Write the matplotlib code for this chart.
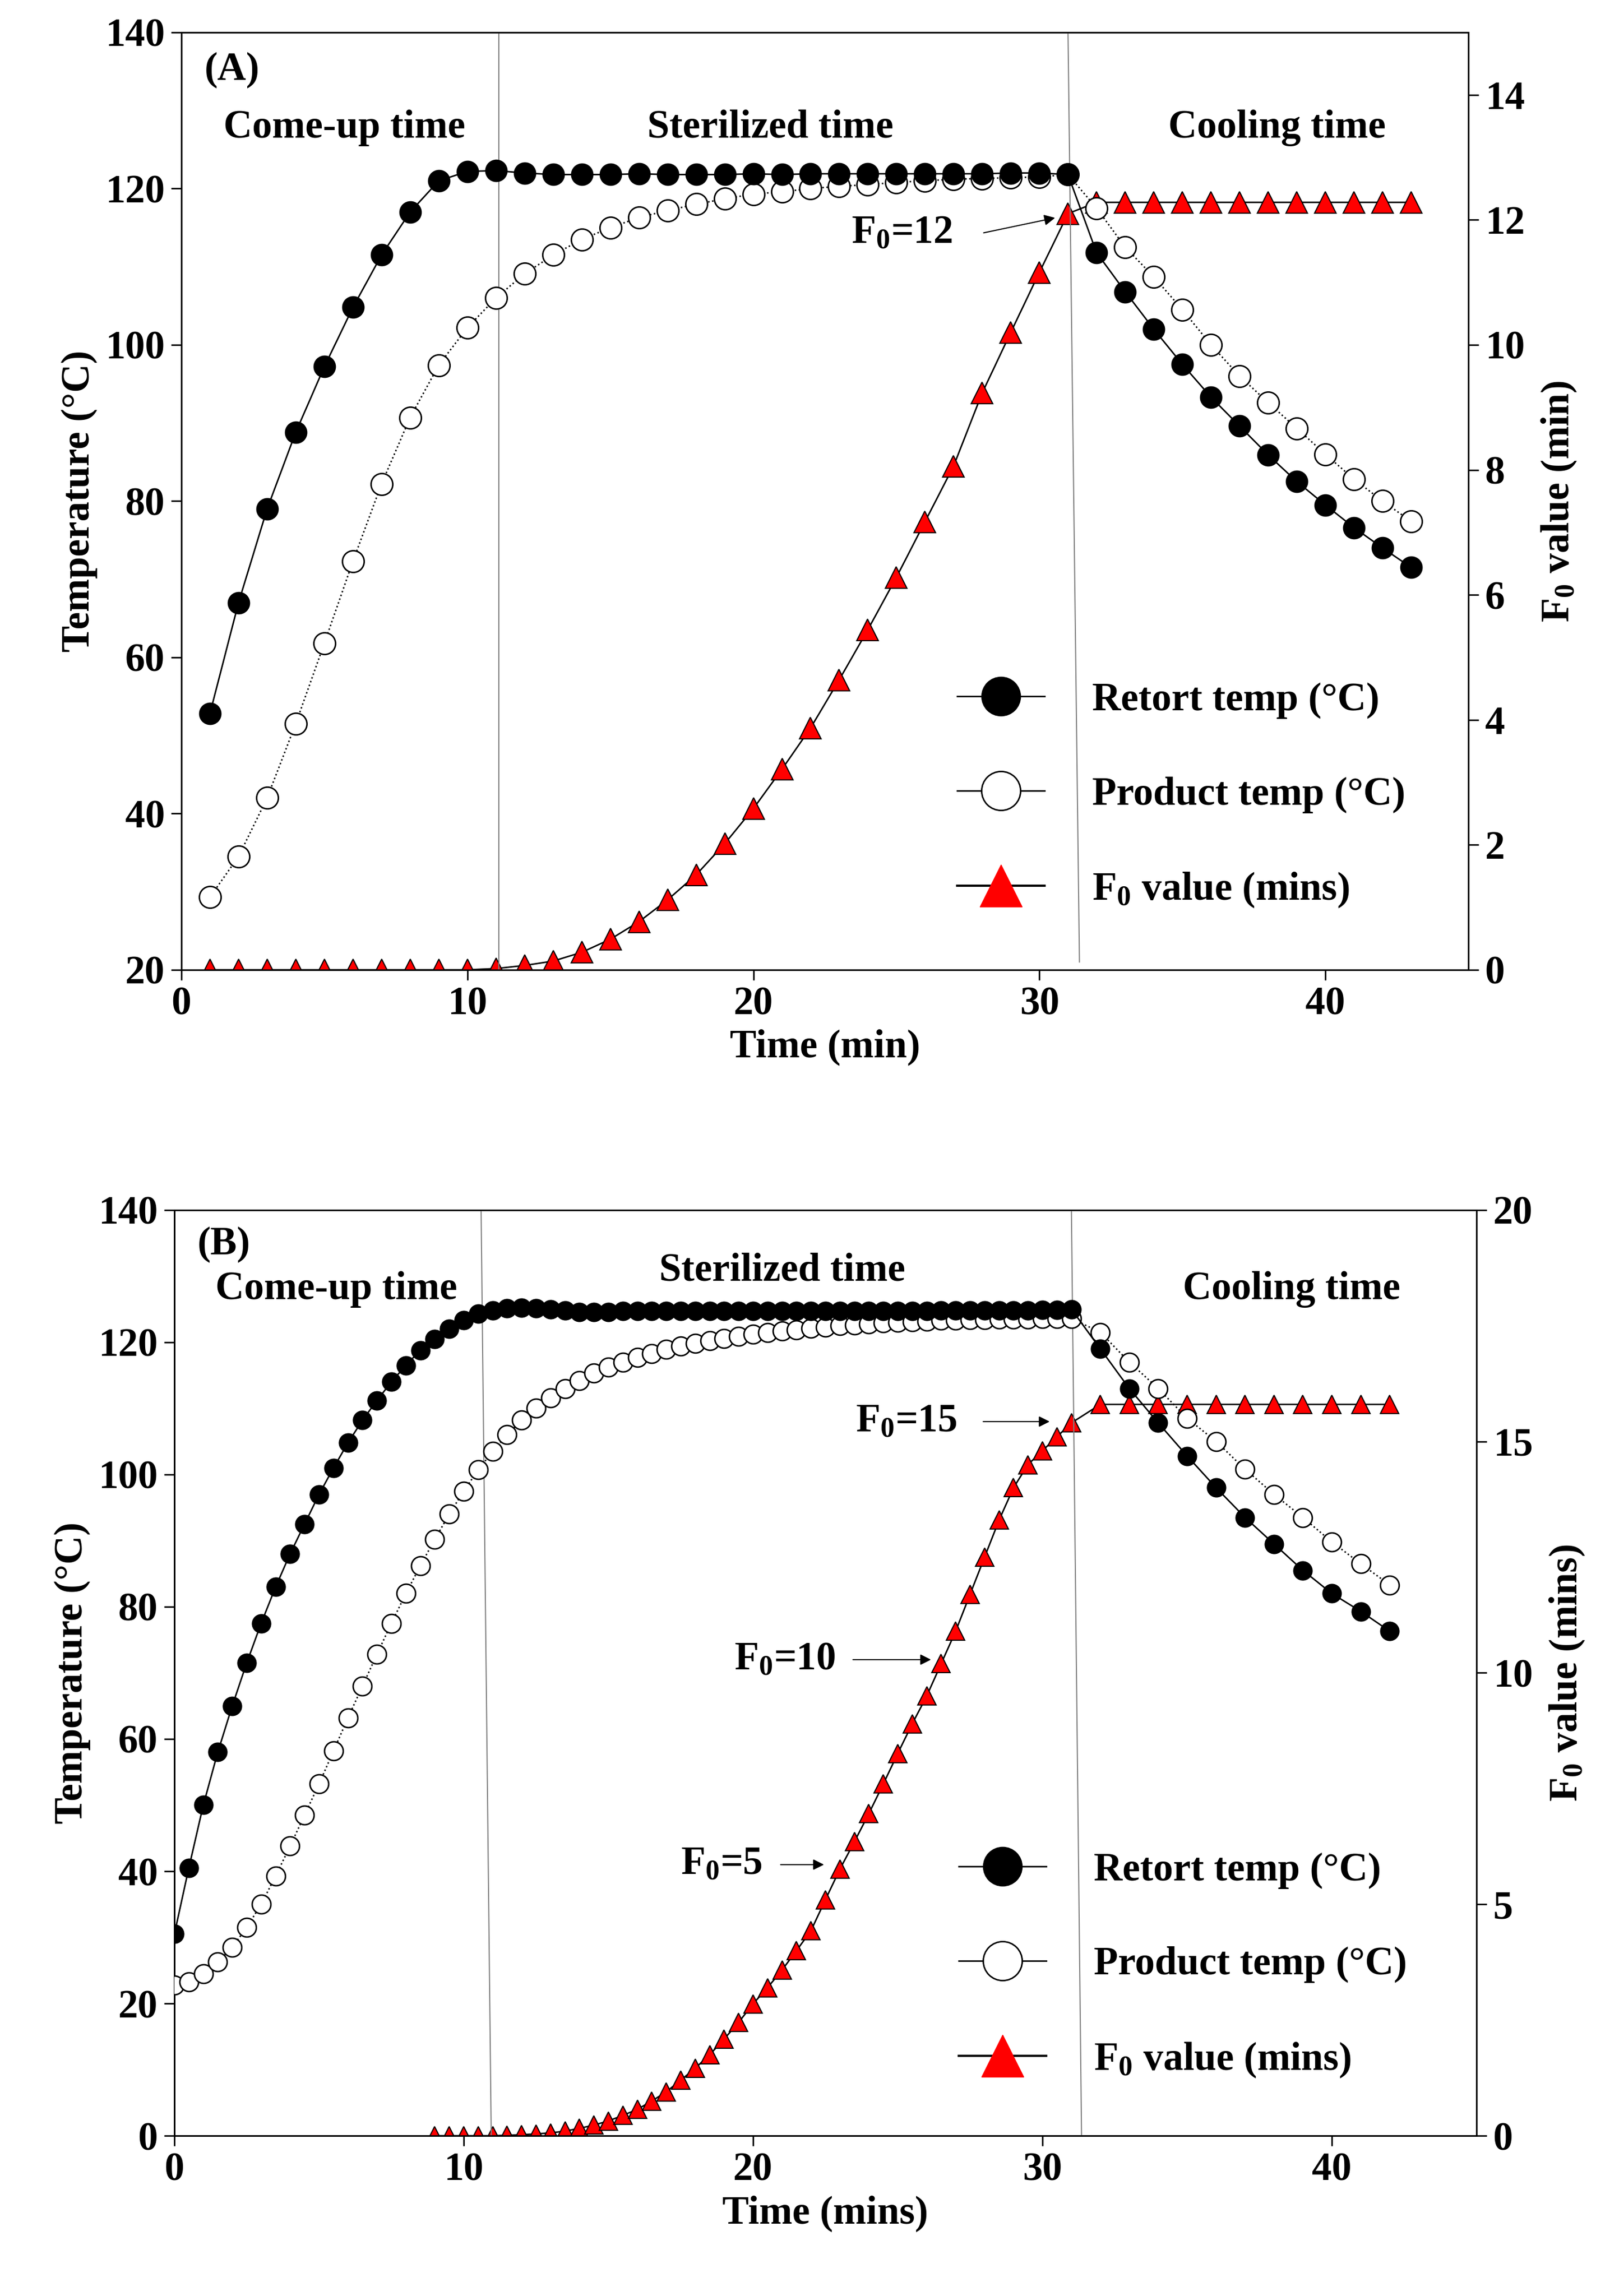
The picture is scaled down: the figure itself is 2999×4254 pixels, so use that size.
import matplotlib
matplotlib.use('Agg')
import matplotlib.pyplot as plt
from matplotlib.lines import Line2D

plt.rcParams['font.family'] = ['Liberation Serif', 'DejaVu Serif']
plt.rcParams['font.weight'] = 'bold'
plt.rcParams['mathtext.fontset'] = 'custom'
plt.rcParams['mathtext.rm'] = 'Liberation Serif:bold'
plt.rcParams['mathtext.it'] = 'Liberation Serif:bold'
plt.rcParams['mathtext.bf'] = 'Liberation Serif:bold'

# ---- Panel A data ----
time_a = list(range(1, 44))
retort_a = [52.8, 67, 79, 88.8, 97.2, 104.8, 111.5, 117, 121, 122.2, 122.3, 122, 121.8, 121.8,
            121.8, 121.9, 121.8, 121.8, 121.8, 121.9, 121.8, 121.9, 121.9, 121.9, 121.9, 121.9,
            121.9, 121.9, 122, 122, 121.8, 111.8, 106.8, 102, 97.5, 93.3, 89.6, 85.9, 82.5,
            79.5, 76.6, 74, 71.5]
product_a = [29.3, 34.5, 42, 51.5, 61.8, 72.3, 82.2, 90.7, 97.4, 102.2, 106, 109.1, 111.5, 113.5,
             115, 116.3, 117.2, 118, 118.7, 119.3, 119.6, 120, 120.3, 120.5, 120.8, 121, 121.2,
             121.3, 121.4, 121.5, 121.8, 117.5, 112.5, 108.7, 104.5, 100, 96, 92.6, 89.3, 86,
             82.8, 80, 77.4]
f0_a = [0, 0, 0, 0, 0, 0, 0, 0, 0, 0, 0.02, 0.07, 0.14, 0.28, 0.49, 0.77, 1.12, 1.52, 2.02,
        2.58, 3.21, 3.87, 4.64, 5.44, 6.28, 7.17, 8.06, 9.23, 10.2, 11.16, 12.1, 12.28, 12.28,
        12.28, 12.28, 12.28, 12.28, 12.28, 12.28, 12.28, 12.28, 12.28, 12.28]

# ---- Panel B data ----
time_b = [i * 0.5 for i in range(63)] + list(range(32, 43))
retort_b = [30.5, 40.5, 50, 58, 65, 71.5, 77.5, 83, 88, 92.5, 97, 101, 104.8, 108.2, 111.2, 114,
            116.5, 118.8, 120.5, 122, 123.3, 124.3, 124.8, 125.1, 125.2, 125.1, 125, 124.8, 124.6,
            124.6, 124.6, 124.7, 124.7, 124.7, 124.7, 124.7, 124.7, 124.7, 124.7, 124.7, 124.7,
            124.7, 124.7, 124.7, 124.7, 124.7, 124.7, 124.7, 124.7, 124.7, 124.7, 124.7, 124.7,
            124.8, 124.8, 124.8, 124.8, 124.8, 124.8, 124.8, 124.9, 124.9, 125,
            119, 113, 107.8, 102.8, 98, 93.5, 89.5, 85.5, 82, 79.3, 76.3]
product_b = [22.8, 23.3, 24.5, 26.3, 28.5, 31.5, 35, 39.3, 43.8, 48.5, 53.2, 58.2, 63.2, 68, 72.8,
             77.5, 82, 86.2, 90.2, 94, 97.5, 100.7, 103.5, 106, 108.2, 110, 111.6, 113, 114.2,
             115.3, 116.2, 117, 117.7, 118.3, 118.9, 119.4, 119.8, 120.2, 120.6, 120.9, 121.2,
             121.5, 121.7, 121.9, 122.1, 122.3, 122.5, 122.6, 122.8, 122.9, 123, 123.1, 123.2,
             123.3, 123.3, 123.4, 123.4, 123.5, 123.5, 123.5, 123.6, 123.6, 123.6,
             121.5, 117, 113, 108.5, 105, 100.8, 97, 93.5, 89.8, 86.5, 83.3]
time_f0_b = [9 + i * 0.5 for i in range(45)] + list(range(32, 43))
f0_b = [0, 0, 0, 0, 0, 0.01, 0.02, 0.04, 0.06, 0.1, 0.16, 0.23, 0.32, 0.44, 0.57, 0.75, 0.95,
        1.2, 1.46, 1.75, 2.09, 2.45, 2.85, 3.2, 3.58, 4.0, 4.43, 5.1, 5.76, 6.35, 6.96, 7.6,
        8.26, 8.9, 9.5, 10.2, 10.9, 11.7, 12.5, 13.3, 14.0, 14.5, 14.8, 15.1, 15.4,
        15.8, 15.8, 15.8, 15.8, 15.8, 15.8, 15.8, 15.8, 15.8, 15.8, 15.8]

FS = 53


def style_axes(ax):
    ax.tick_params(direction='out', length=14, width=2, labelsize=FS, top=False, pad=8)
    for s in ax.spines.values():
        s.set_linewidth(2)


def draw_panel(ax, t, ret, prod, tf, f0, ms, ylim, f0lim, f0ticks, xlabel, f0label,
               ylabels, phases, arrows, tag, vlines):
    ax2 = ax.twinx()
    ax.plot(t, ret, '-', color='black', lw=2, marker='o', ms=ms, mfc='black', mec='black', zorder=4)
    ax.plot(t, prod, ':', color='black', lw=2, marker='o', ms=ms, mfc='white', mec='black',
            mew=2, zorder=3)
    ax2.plot(tf, f0, '-', color='black', lw=2, marker='^', ms=ms, mfc='red', mec='black',
             mew=1.5, zorder=5)
    for (x0, x1, y1) in vlines:
        ax.plot([x0, x1], [ylim[1], y1], color='gray', lw=1.5, zorder=1)
    ax.set_xlim(0, 45)
    ax.set_ylim(*ylim)
    ax2.set_ylim(*f0lim)
    ax2.set_yticks(f0ticks)
    ax.set_xticks([0, 10, 20, 30, 40])
    ax.set_yticks(ylabels)
    ax.set_xlabel(xlabel, fontsize=FS, fontweight='bold', labelpad=8)
    ax.set_ylabel('Temperature (°C)', fontsize=FS, fontweight='bold', labelpad=10)
    ax2.set_ylabel(f0label, fontsize=FS, fontweight='bold', labelpad=20)
    style_axes(ax)
    style_axes(ax2)
    ax.text(0.8, ylim[1] - 2.5, tag, fontsize=FS, fontweight='bold', va='top')
    for (x, y, s) in phases:
        ax.text(x, y, s, fontsize=FS, fontweight='bold', ha='center', va='center')
    for (tx, ty, s, ax0, ax1, dy) in arrows:
        ax.text(tx, ty, s, fontsize=FS, fontweight='bold', ha='center', va='center')
        ax.annotate('', xy=(ax1, ty + dy), xytext=(ax0, ty),
                    arrowprops=dict(arrowstyle='-|>', color='black', lw=1.5, mutation_scale=30))
    handles = [
        Line2D([], [], color='black', lw=2, marker='o', ms=52, mfc='black', mec='black'),
        Line2D([], [], color='black', lw=2, marker='o', ms=52, mfc='white', mec='black', mew=2),
        Line2D([], [], color='black', lw=3, marker='^', ms=56, mfc='red', mec='red'),
    ]
    ax.legend(handles, ['Retort temp (°C)', 'Product temp (°C)', 'F$_0$ value (mins)'],
              loc='upper left', bbox_to_anchor=(0.575, 0.345), frameon=False,
              prop={'size': FS, 'weight': 'bold'}, handlelength=2.2, handletextpad=1.2,
              labelspacing=1.45)
    ax.set_zorder(ax2.get_zorder() + 1)
    ax.patch.set_visible(False)
    return ax2


fig = plt.figure(figsize=(29.99, 42.54), dpi=100)
axA = fig.add_axes([0.112, 0.5776, 0.795, 0.4083])
axB = fig.add_axes([0.1077, 0.0698, 0.8043, 0.4032])

draw_panel(axA, time_a, retort_a, product_a, time_a, f0_a, 29, (20, 140), (0, 15),
           list(range(0, 15, 2)), 'Time (min)', 'F$_0$ value (min)',
           list(range(20, 141, 20)),
           [(5.7, 127.8, 'Come-up time'), (20.6, 127.8, 'Sterilized time'),
            (38.3, 127.8, 'Cooling time')],
           [(25.2, 114.3, 'F$_0$=12', 28.0, 30.6, 2.0)], '(A)',
           [(11.1, 11.1, 20), (31.0, 31.4, 21)])

draw_panel(axB, time_b, retort_b, product_b, time_f0_b, f0_b, 25, (0, 140), (0, 20),
           [0, 5, 10, 15, 20], 'Time (mins)', 'F$_0$ value (mins)',
           list(range(0, 141, 20)),
           [(5.6, 128, 'Come-up time'), (21.0, 130.8, 'Sterilized time'),
            (38.6, 128, 'Cooling time')],
           [(25.3, 108, 'F$_0$=15', 27.9, 30.3, 0), (21.1, 72, 'F$_0$=10', 23.4, 26.2, 0),
            (18.9, 41, 'F$_0$=5', 20.9, 22.5, 0)], '(B)',
           [(10.6, 10.95, 0), (31.0, 31.35, 0)])

fig.savefig('out.png', dpi=100)
